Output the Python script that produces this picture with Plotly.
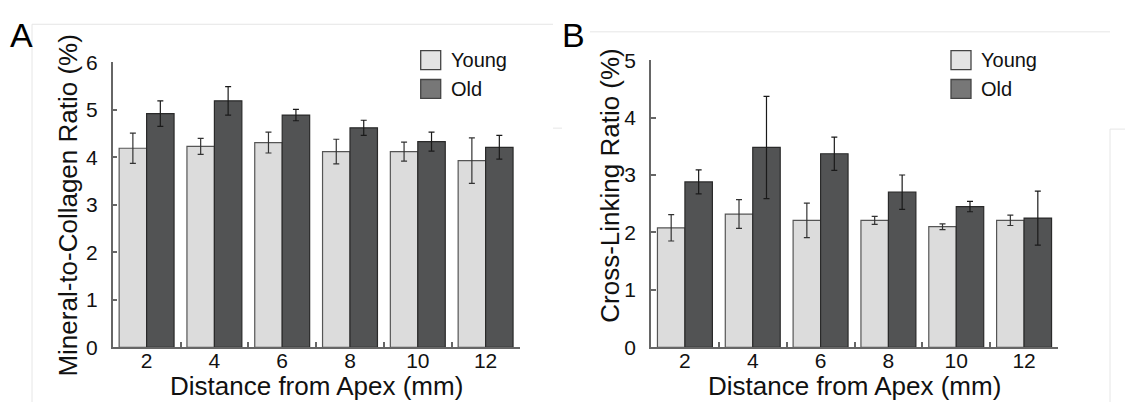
import plotly.graph_objects as go

# ---------------- data ----------------
distances = ["2", "4", "6", "8", "10", "12"]
series_names = ["Young", "Old"]

mc_young = [4.19, 4.23, 4.31, 4.12, 4.12, 3.93]
mc_young_err = [0.32, 0.17, 0.22, 0.26, 0.20, 0.48]
mc_old = [4.92, 5.19, 4.89, 4.62, 4.33, 4.21]
mc_old_err = [0.27, 0.30, 0.12, 0.16, 0.20, 0.25]

cl_young = [2.08, 2.32, 2.21, 2.21, 2.10, 2.21]
cl_young_err = [0.23, 0.25, 0.30, 0.07, 0.05, 0.09]
cl_old = [2.88, 3.48, 3.37, 2.70, 2.45, 2.25]
cl_old_err = [0.21, 0.89, 0.29, 0.30, 0.09, 0.47]

yticks_a = [0, 1, 2, 3, 4, 5, 6]
yticks_b = [0, 1, 2, 3, 4, 5]

x_title = "Distance from Apex (mm)"
y_title_a = "Mineral-to-Collagen Ratio (%)"
y_title_b = "Cross-Linking Ratio (%)"
panel_labels = ["A", "B"]

# ---------------- style ----------------
W, H = 1125, 413
FONT = "Liberation Sans, Arial, sans-serif"
YOUNG_FILL, YOUNG_LINE = "#dcdcdc", "#555555"
OLD_FILL, OLD_LINE = "#525354", "#2a2a2a"
AXIS_COL = "#666666"


def px(x):
    return x / W


def py(y):
    return 1 - y / H


def bar(x, y, err, fill, line, ecol, xa, ya, name):
    return go.Bar(
        x=x, y=y, name=name, xaxis=xa, yaxis=ya, showlegend=False,
        marker=dict(color=fill, line=dict(color=line, width=1.2)),
        error_y=dict(type="data", array=err, thickness=1.2, width=3, color=ecol),
    )


fig = go.Figure()
fig.add_trace(bar(distances, mc_young, mc_young_err, YOUNG_FILL, YOUNG_LINE, "#333333", "x", "y", series_names[0]))
fig.add_trace(bar(distances, mc_old, mc_old_err, OLD_FILL, OLD_LINE, "#1a1a1a", "x", "y", series_names[1]))
fig.add_trace(bar(distances, cl_young, cl_young_err, YOUNG_FILL, YOUNG_LINE, "#333333", "x2", "y2", series_names[0]))
fig.add_trace(bar(distances, cl_old, cl_old_err, OLD_FILL, OLD_LINE, "#1a1a1a", "x2", "y2", series_names[1]))

xcommon = dict(type="category", range=[-0.5, 5.5], showline=True, linecolor=AXIS_COL, linewidth=1.5,
               ticks="inside", tickson="boundaries", ticklen=5, tickwidth=1.5, tickcolor=AXIS_COL,
               tickfont=dict(family=FONT, size=21, color="#111111"), showgrid=False, zeroline=False,
               ticklabelstandoff=-6, fixedrange=True)
ycommon = dict(showline=True, linecolor=AXIS_COL, linewidth=1.5, ticks="inside", ticklen=5, tickwidth=1.5,
               tickcolor=AXIS_COL, tickfont=dict(family=FONT, size=21, color="#111111"), showgrid=False,
               zeroline=False, ticklabelstandoff=9, fixedrange=True)

fig.update_layout(
    width=W, height=H, margin=dict(l=0, r=0, t=0, b=0),
    paper_bgcolor="white", plot_bgcolor="white",
    barmode="group", bargap=0.19, bargroupgap=0,
    font=dict(family=FONT, color="#111111"),
    xaxis=dict(domain=[px(112.7), px(519.5)], anchor="y", **xcommon),
    yaxis=dict(domain=[py(355), py(53.3)], anchor="x", range=[0, 6], tickvals=yticks_a, **ycommon),
    xaxis2=dict(domain=[px(651), px(1058)], anchor="y2", **xcommon),
    yaxis2=dict(domain=[py(355), py(51)], anchor="x2", range=[0, 5], tickvals=yticks_b, **ycommon),
)

ann = []
# axis titles
for cx in (316, 854):
    ann.append(dict(text=x_title, x=px(cx), y=py(396), xref="paper", yref="paper", showarrow=False,
                    font=dict(size=26, family=FONT, color="#111111"), xanchor="center", yanchor="middle"))
ann.append(dict(text=y_title_a, x=px(68), y=py(205), xref="paper", yref="paper", showarrow=False, textangle=-90,
                font=dict(size=26, family=FONT, color="#111111"), xanchor="center", yanchor="middle"))
ann.append(dict(text=y_title_b, x=px(610), y=py(184), xref="paper", yref="paper", showarrow=False, textangle=-90,
                font=dict(size=26, family=FONT, color="#111111"), xanchor="center", yanchor="middle"))
# panel letters
ann.append(dict(text=panel_labels[0], x=px(21.5), y=py(24), xref="paper", yref="paper", showarrow=False,
                font=dict(size=34, family=FONT, color="#000000"), xanchor="center", yanchor="middle"))
ann.append(dict(text=panel_labels[1], x=px(573), y=py(24), xref="paper", yref="paper", showarrow=False,
                font=dict(size=34, family=FONT, color="#000000"), xanchor="center", yanchor="middle"))

shapes = []
# legends
for bx, tx in [(420.7, 449), (951, 979)]:
    for i, (y0, y1) in enumerate([(41, 61), (71.5, 91.5)]):
        fill = "#e4e4e4" if i == 0 else "#777777"
        shapes.append(dict(type="rect", xref="paper", yref="paper", x0=px(bx), x1=px(bx + 20),
                           y0=py(y1), y1=py(y0), fillcolor=fill, line=dict(color="#444444", width=1.3)))
        ann.append(dict(text=series_names[i], x=px(tx), y=py((y0 + y1) / 2), xref="paper", yref="paper",
                        showarrow=False, xanchor="left", yanchor="middle",
                        font=dict(size=20, family=FONT, color="#111111")))

# faint page-crop border lines
faint = dict(color="#e6e6e6", width=1)
for x0, y0, x1, y1 in [(32, 13, 32, 413), (32, 13, 553, 13), (553, 123, 562, 123),
                       (590, 21, 1110, 21), (1110, 124, 1110, 413), (1110, 124, 1125, 124)]:
    shapes.append(dict(type="line", xref="paper", yref="paper", x0=px(x0), y0=py(y0), x1=px(x1), y1=py(y1),
                       line=faint, layer="below"))

fig.update_layout(annotations=ann, shapes=shapes)
fig.write_html("out.html")
